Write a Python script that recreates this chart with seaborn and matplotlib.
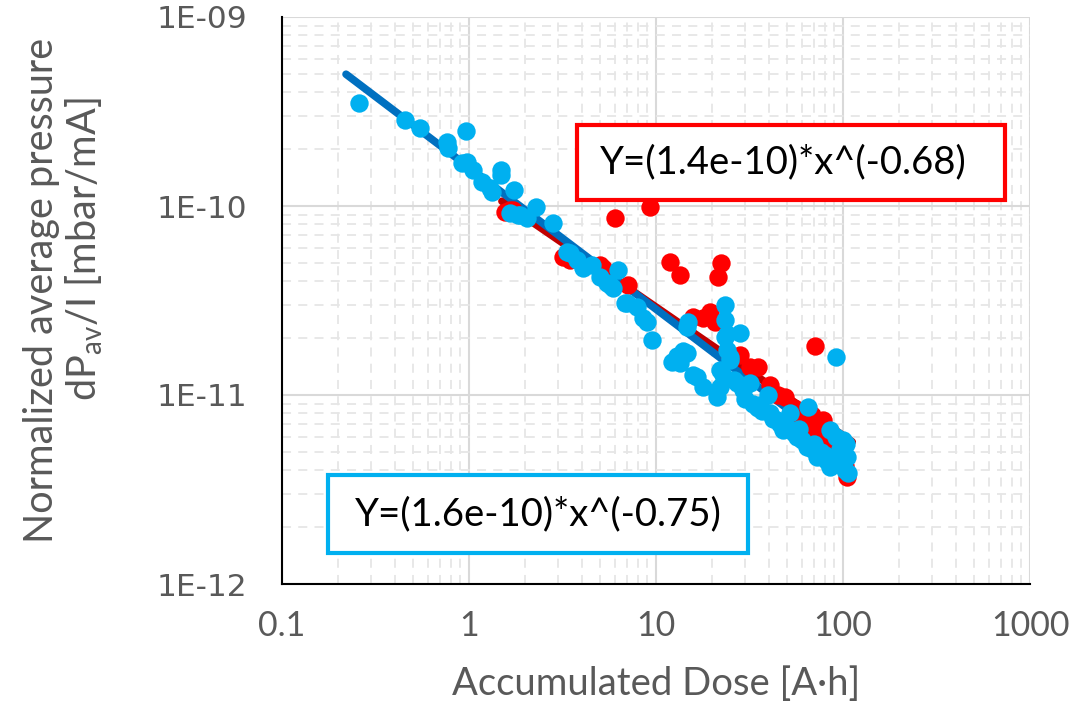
import numpy as np
import pandas as pd
import matplotlib
matplotlib.use('Agg')
import matplotlib.pyplot as plt
import matplotlib.patches as mpatches
from matplotlib.ticker import LogLocator, NullFormatter, FixedLocator
import seaborn as sns

# data
blue_x = [0.258, 0.455, 0.547, 0.763, 0.773, 0.964, 0.917, 0.976, 1.05, 1.174, 1.295, 1.483, 1.483,
          1.74, 1.656, 1.875, 2.04, 2.27, 2.81, 1.83, 1.33, 3.34, 3.47, 3.78, 4.07, 4.55, 5.02, 5.47,
          5.89, 6.26, 5.68, 6.83, 7.0, 7.91, 8.51, 8.95, 9.52, 14.8, 14.6, 12.2, 14.6, 13.4, 15.8, 17.8,
          21.2, 23.4, 23.4, 23.4, 24.0, 24.9, 28.1, 22.0, 22.0, 27.1, 29.2, 31.8, 34.7, 24.0, 24.9, 22.8,
          16.6, 35.1, 39.7, 40.7, 52.1, 65.0, 47.8, 56.8, 64.2, 72.6, 85.2, 92.3, 92.3, 105, 106, 85.2,
          44.4, 92.3, 37, 42, 46, 50, 55, 60, 68, 76, 80, 88, 95, 100, 103, 98, 104, 100, 96, 30, 33,
          14.0, 13.0, 26, 36, 58, 70, 82]
blue_y = [3.51e-10, 2.85e-10, 2.59e-10, 2.18e-10, 2.03e-10, 2.49e-10, 1.69e-10, 1.71e-10, 1.55e-10,
          1.34e-10, 1.25e-10, 1.55e-10, 1.46e-10, 1.22e-10, 9.18e-11, 8.96e-11, 8.64e-11, 9.88e-11,
          8.13e-11, 8.96e-11, 1.19e-10, 5.71e-11, 5.64e-11, 5.18e-11, 4.70e-11, 4.87e-11, 4.21e-11,
          3.91e-11, 3.68e-11, 4.58e-11, 3.82e-11, 3.07e-11, 3.07e-11, 2.92e-11, 2.55e-11, 2.43e-11,
          1.95e-11, 2.43e-11, 2.29e-11, 1.50e-11, 1.67e-11, 1.48e-11, 1.28e-11, 1.10e-11, 9.75e-12,
          2.99e-11, 2.49e-11, 2.03e-11, 1.73e-11, 1.53e-11, 2.13e-11, 1.36e-11, 1.10e-11, 1.16e-11,
          1.06e-11, 1.16e-11, 8.64e-12, 2.1e-11, 1.59e-11, 1.28e-11, 1.25e-11, 8.53e-12, 1.0e-11,
          8.03e-12, 8.03e-12, 8.64e-12, 6.53e-12, 6.0e-12, 5.31e-12, 4.70e-12, 6.53e-12, 6.0e-12,
          4.37e-12, 4.70e-12, 3.87e-12, 4.16e-12, 7.38e-12, 1.59e-11, 8.2e-12, 7.5e-12, 7.0e-12,
          6.7e-12, 6.3e-12, 5.8e-12, 5.2e-12, 5.0e-12, 4.8e-12, 4.6e-12, 4.3e-12, 4.2e-12, 4.0e-12,
          5.0e-12, 5.5e-12, 5.8e-12, 5.2e-12, 9.5e-12, 9.0e-12, 1.7e-11, 1.6e-11, 1.2e-11, 8.8e-12,
          6.6e-12, 5.5e-12, 4.5e-12]

red_x = [1.557, 1.656, 1.72, 6.04, 9.29, 3.18, 3.47, 5.02, 5.21, 7.08, 11.9, 13.4, 22.3, 21.5, 15.8,
         19.4, 17.8, 20.7, 28.1, 35.1, 40.7, 49.0, 68.2, 58.9, 69.2, 78.2, 78.2, 105, 70.8, 45, 55,
         62, 75, 85, 90, 95, 100, 103, 32, 25]
red_y = [9.29e-11, 9.53e-11, 9.53e-11, 8.64e-11, 9.88e-11, 5.37e-11, 5.18e-11, 4.87e-11, 4.70e-11,
         3.82e-11, 5.06e-11, 4.31e-11, 4.99e-11, 4.21e-11, 2.59e-11, 2.75e-11, 2.55e-11, 2.43e-11,
         1.63e-11, 1.41e-11, 1.13e-11, 9.75e-12, 7.83e-12, 7.2e-12, 6.53e-12, 6.0e-12, 7.38e-12,
         3.68e-12, 1.81e-11, 1.0e-11, 8.5e-12, 8.0e-12, 6.8e-12, 5.5e-12, 5.0e-12, 4.8e-12,
         4.5e-12, 4.2e-12, 1.4e-11, 1.6e-11]

# trend line end points (straight in log-log)
red_fit_x = [1.5, 112]
red_fit_y = [1.06e-10, 5.65e-12]
blue_fit_x = [0.22, 105]
blue_fit_y = [4.98e-10, 4.88e-12]

red_label = 'Y=(1.4e-10)*x^(-0.68)'
blue_label = 'Y=(1.6e-10)*x^(-0.75)'

sns.set_style('white')
plt.rcParams['font.family'] = ['Lato', 'DejaVu Sans']

fig = plt.figure(figsize=(10.78, 7.08), dpi=100)
ax = fig.add_axes([282 / 1078, 1 - 584 / 708, (1030 - 282) / 1078, (584 - 17) / 708])

sns.lineplot(x=red_fit_x, y=red_fit_y, color='#C00000', lw=5.5, ax=ax, zorder=2)
sns.lineplot(x=blue_fit_x, y=blue_fit_y, color='#0070C0', lw=5.5, ax=ax, zorder=2)
for ln in ax.lines:
    ln.set_solid_capstyle('round')

sns.scatterplot(x=red_x, y=red_y, color='#FF0000', s=175, linewidth=0, ax=ax, zorder=3)
sns.scatterplot(x=blue_x, y=blue_y, color='#00B0F0', s=175, linewidth=0, ax=ax, zorder=4)

ax.set_xscale('log')
ax.set_yscale('log')
ax.set_xlim(0.1, 1000)
ax.set_ylim(1e-12, 1e-9)

ax.xaxis.set_major_locator(FixedLocator([0.1, 1, 10, 100, 1000]))
ax.set_xticklabels(['0.1', '1', '10', '100', '1000'])
ax.yaxis.set_major_locator(FixedLocator([1e-12, 1e-11, 1e-10, 1e-9]))
ax.set_yticklabels(['1E-12', '1E-11', '1E-10', '1E-09'], family='DejaVu Sans')
ax.xaxis.set_minor_locator(LogLocator(base=10, subs=np.arange(2, 10), numticks=20))
ax.yaxis.set_minor_locator(LogLocator(base=10, subs=np.arange(2, 10), numticks=20))
ax.xaxis.set_minor_formatter(NullFormatter())
ax.yaxis.set_minor_formatter(NullFormatter())

ax.grid(True, which='major', color='#D9D9D9', lw=1.5, zorder=0)
ax.grid(True, which='minor', color='#E6E6E6', lw=1.3, ls=(0, (5, 4)), zorder=0)
ax.set_axisbelow(True)

for s in ['top', 'right']:
    ax.spines[s].set_visible(False)
for s in ['left', 'bottom']:
    ax.spines[s].set_color('black')
    ax.spines[s].set_linewidth(1.5)

ax.tick_params(axis='x', which='major', direction='out', length=9, width=1.3, color='black',
               labelsize=24.5, labelcolor='#595959', pad=10)
ax.tick_params(axis='x', which='minor', direction='in', length=7, width=1.1, color='black')
ax.tick_params(axis='y', which='major', direction='inout', length=18, width=1.3, color='black',
               labelsize=22.5, labelcolor='#595959', pad=16)
ax.tick_params(axis='y', which='minor', direction='in', length=7, width=1.1, color='black')

ax.set_xlabel('Accumulated Dose [A·h]', fontsize=27.5, color='#595959', labelpad=17)
fig.text(42 / 1078, 1 - 290 / 708, 'Normalized average pressure', rotation=90, fontsize=28.5,
         color='#595959', ha='center', va='center')
fig.text(84 / 1078, 1 - 249 / 708, r'dP$_{\mathregular{av}}$/I [mbar/mA]', rotation=90, fontsize=28.5,
         color='#595959', ha='center', va='center')

# equation boxes
fig.patches.append(mpatches.Rectangle((577 / 1078, 1 - 200 / 708), 428 / 1078, 75 / 708,
                                      transform=fig.transFigure, fc='white', ec='#FF0000', lw=3,
                                      zorder=5))
fig.text(783 / 1078, 1 - 162 / 708, red_label, fontsize=27.5, color='black', ha='center', va='center',
         zorder=6)
fig.patches.append(mpatches.Rectangle((328 / 1078, 1 - 553 / 708), 420 / 1078, 78 / 708,
                                      transform=fig.transFigure, fc='white', ec='#00B0F0', lw=3,
                                      zorder=5))
fig.text(538 / 1078, 1 - 514 / 708, blue_label, fontsize=27.5, color='black', ha='center', va='center',
         zorder=6)

fig.savefig('out.png', dpi=100, facecolor='white')
